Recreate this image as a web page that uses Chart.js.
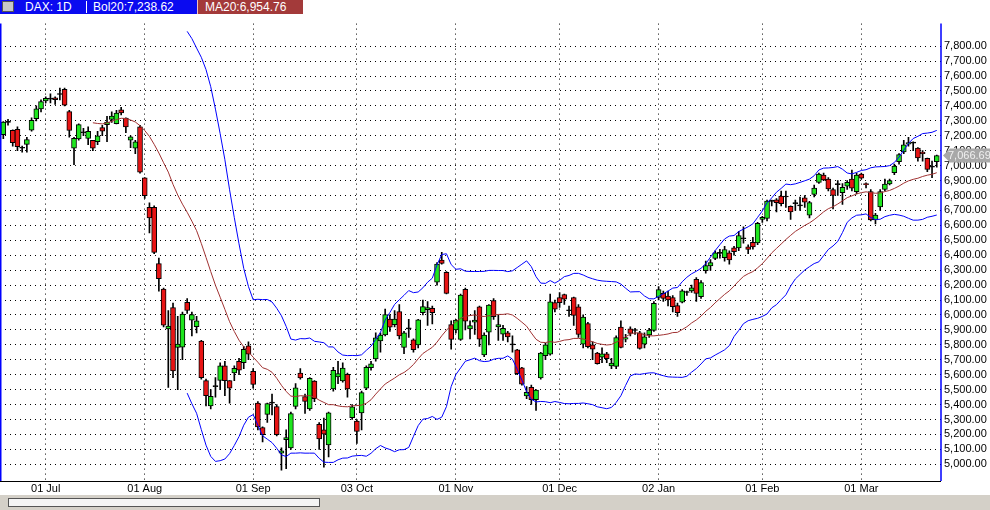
<!DOCTYPE html>
<html><head><meta charset="utf-8">
<script src="https://cdn.jsdelivr.net/npm/chart.js@4/dist/chart.umd.min.js"></script>
<style>
html,body{margin:0;padding:0;background:#fff;width:990px;height:510px;overflow:hidden;font-family:"Liberation Sans",Arial,sans-serif}
#hdr{position:absolute;left:0;top:0;width:990px;height:14px;background:#fff}
#hb{position:absolute;left:0;top:0;width:197px;height:14px;background:#0a0af0}
#hm{position:absolute;left:197px;top:0;width:105px;height:14px;background:#a33a3a;border-left:1px solid #f0c0c0}
.ht{position:absolute;top:0;color:#fff;font-size:12px;line-height:14px;white-space:nowrap}
#ic{position:absolute;left:2px;top:1px;width:12px;height:11px;background:#c8c8c8;border:1px solid #555;box-sizing:border-box}
#wrap{position:absolute;left:0;top:14px;width:990px;height:481px}
#sb{position:absolute;left:0;top:495px;width:990px;height:15px;background:#d4d0c8}
#tr{position:absolute;left:8px;top:3px;width:310px;height:7px;background:#f4f4f4;border:1px solid #555}
</style></head><body>
<div id="hdr"><div id="hb"></div><div id="hm"></div><div id="ic"></div>
<div class="ht" style="left:25px">DAX: 1D</div>
<div style="position:absolute;left:86px;top:1px;width:1px;height:12px;background:#fff"></div>
<div class="ht" style="left:93px">Bol20:7,238.62</div>
<div class="ht" style="left:205px">MA20:6,954.76</div></div>
<div id="wrap"><canvas id="c" width="990" height="481"></canvas></div>
<div id="sb"><div id="tr"></div></div>
<script>
const opens=[7208,7290,7237,7243,7116,7142,7237,7314,7380,7434,7445,7454,7476,7510,7362,7116,7178,7220,7182,7169,7160,7254,7274,7309,7281,7373,7318,7171,7116,7259,
6919,6721,6721,6344,6173,5906,6050,5783,5785,6085,5965,5921,5825,5560,5390,5520,5561,5660,5560,5612,5690,5680,5793,5622,5410,5246,5334,5410,5387,5075,
5165,5110,5388,5611,5454,5370,5557,5268,5230,5130,5505,5585,5559,5603,5312,5290,5344,5509,5647,5705,5826,5866,5973,5935,6023,5782,5907,5833,5800,6016,
6035,6045,6220,6367,6286,5935,5900,5836,6172,5907,5951,6055,5732,5885,6096,5920,5872,5881,5800,5767,5646,5458,5515,5432,5578,5727,5738,6082,6117,6137,
6028,6117,6055,5804,5942,5800,5744,5718,5740,5658,5656,5918,5838,5907,5896,5881,5805,5867,5897,6117,6144,6126,6117,6062,6086,6150,6161,6238,6122,6297,
6328,6379,6412,6383,6416,6449,6449,6510,6456,6486,6482,6640,6647,6760,6771,6796,6790,6728,6745,6730,6785,6668,6807,6888,6936,6910,6840,6873,6818,6862,
6910,6826,6943,6880,6826,6636,6723,6840,6877,6953,7026,7092,7144,7151,7118,7090,7048,6990,7026];
const highs=[7295,7310,7240,7260,7130,7190,7320,7400,7440,7460,7480,7460,7520,7520,7370,7190,7280,7250,7260,7170,7230,7270,7330,7360,7370,7390,7320,7200,7170,7270,
6920,6750,6730,6380,6180,6030,6080,5990,6020,6110,6020,5990,5830,5570,5500,5580,5680,5690,5560,5660,5710,5790,5820,5640,5420,5250,5410,5470,5400,5110,
5230,5350,5540,5640,5470,5580,5560,5280,5310,5350,5650,5690,5680,5610,5400,5300,5490,5660,5690,5880,5880,6040,6000,6030,6070,5890,5970,5840,5970,6100,
6090,6060,6350,6420,6290,5960,5970,6140,6180,5960,6030,6060,5880,6070,6110,6000,5930,5890,5860,5770,5650,5520,5530,5500,5750,5810,6140,6100,6150,6140,
6060,6120,6070,6000,5950,5820,5750,5780,5750,5710,5860,5960,5870,5920,5910,5890,5880,5910,6090,6190,6160,6160,6130,6080,6170,6160,6200,6250,6230,6360,
6370,6430,6440,6460,6430,6460,6560,6590,6470,6520,6620,6660,6770,6770,6780,6830,6830,6730,6770,6790,6800,6760,6870,6950,6950,6920,6850,6900,6880,6900,
6970,6950,6950,6885,6840,6680,6840,6910,6910,7010,7080,7170,7190,7160,7120,7100,7050,7030,7070];
const lows=[7180,7270,7130,7100,7090,7090,7230,7300,7360,7420,7420,7410,7440,7400,7190,7007,7170,7200,7140,7100,7140,7200,7160,7290,7280,7340,7220,7120,7080,6950,
6780,6550,6410,6160,5920,5515,5580,5500,5700,6010,5860,5880,5570,5390,5370,5450,5500,5460,5410,5560,5600,5640,5700,5510,5230,5150,5280,5330,5190,4960,
4970,5100,5370,5570,5340,5360,5420,5100,4980,5050,5490,5540,5550,5450,5300,5140,5230,5500,5630,5690,5750,5860,5890,5920,5840,5740,5850,5750,5780,6000,
5930,5940,6200,6340,6140,5770,5880,5830,5900,5840,5870,5790,5720,5800,5970,5830,5830,5820,5750,5600,5530,5440,5400,5360,5570,5700,5730,6020,6050,6070,
5990,5930,5850,5780,5780,5700,5670,5680,5680,5640,5640,5780,5820,5860,5870,5770,5780,5850,5890,6100,6090,6060,6020,5990,6080,6130,6150,6090,6110,6280,
6300,6370,6380,6360,6340,6400,6430,6480,6410,6440,6470,6620,6630,6730,6690,6730,6720,6640,6700,6700,6720,6650,6790,6880,6900,6830,6710,6800,6740,6840,
6830,6810,6910,6850,6630,6610,6700,6830,6870,6940,7010,7080,7130,7100,7030,7030,6960,6920,6990];
const closes=[7292,7290,7153,7127,7116,7175,7303,7380,7428,7450,7445,7441,7476,7405,7235,7182,7274,7220,7230,7116,7199,7230,7292,7331,7351,7353,7259,7193,7160,6956,
6798,6649,6419,6243,5932,5926,5625,5805,6005,6030,6002,5960,5580,5460,5455,5520,5660,5560,5510,5643,5630,5770,5738,5535,5250,5198,5406,5410,5198,5090,
5178,5340,5512,5578,5421,5575,5439,5169,5202,5345,5629,5607,5645,5505,5384,5220,5480,5650,5673,5847,5865,6002,5918,5973,5859,5881,5907,5767,5968,6056,
6050,6016,6340,6345,6144,5836,5965,6133,5958,5929,5965,5837,5865,6066,5988,5935,5910,5853,5800,5607,5537,5482,5432,5497,5745,5800,6088,6038,6082,6106,
6028,5997,5869,5986,5787,5771,5673,5740,5707,5678,5849,5782,5849,5876,5896,5776,5853,5899,6078,6170,6111,6100,6055,6016,6161,6150,6181,6144,6216,6330,
6350,6416,6412,6438,6368,6423,6532,6510,6438,6456,6614,6653,6763,6760,6752,6745,6790,6690,6745,6730,6756,6752,6849,6943,6905,6844,6800,6873,6855,6888,
6849,6936,6916,6873,6636,6669,6826,6877,6899,6997,7074,7140,7155,7151,7052,7080,6975,6990,7067];
const tickLabels=["01 Jul","01 Aug","01 Sep","03 Oct","01 Nov","01 Dec","02 Jan","01 Feb","01 Mar"];
const lastLabel="7,066.69";

const N=closes.length;
const MON=["Jan","Feb","Mar","Apr","May","Jun","Jul","Aug","Sep","Oct","Nov","Dec"];
const categories=[];
{let d=new Date(Date.UTC(2011,5,20));while(categories.length<N){const wd=d.getUTCDay();const iso=d.toISOString().slice(0,10);
if(wd!==0&&wd!==6&&iso!=="2011-12-26")categories.push(String(d.getUTCDate()).padStart(2,"0")+" "+MON[d.getUTCMonth()]);
d=new Date(d.getTime()+86400000);}}
const tickIdx=tickLabels.map(l=>categories.indexOf(l)).filter(i=>i>=0);

const ma=[],up=[],lo=[];
for(let i=0;i<N;i++){
 if(i<19){ma.push({x:i,y:null});up.push({x:i,y:null});lo.push({x:i,y:null});continue;}
 const w=closes.slice(i-19,i+1);const m=w.reduce((a,b)=>a+b,0)/20;
 const sd=Math.sqrt(w.reduce((a,b)=>a+(b-m)*(b-m),0)/20);
 ma.push({x:i,y:m});up.push({x:i,y:i>=39?m+2*sd:null});lo.push({x:i,y:i>=39?m-2*sd:null});
}
const wick=closes.map((c,i)=>({x:i,y:[lows[i],highs[i]]}));
const body=closes.map((c,i)=>({x:i,y:[opens[i],c]}));
const bodyCol=closes.map((c,i)=>c>opens[i]?"#1ee61e":(c<opens[i]?"#e81414":"#000"));

const frame={id:"frame",afterDraw(ch){
 const {ctx,chartArea:a}=ch;ctx.save();
 ctx.strokeStyle="#0000ff";ctx.lineWidth=1.5;
 ctx.beginPath();ctx.moveTo(a.left+0.75,a.top);ctx.lineTo(a.left+0.75,a.bottom);ctx.moveTo(a.right,a.top);ctx.lineTo(a.right,a.bottom);ctx.stroke();
 ctx.strokeStyle="#000";ctx.lineWidth=1;ctx.beginPath();ctx.moveTo(a.left,a.bottom+0.5);ctx.lineTo(a.right,a.bottom+0.5);ctx.stroke();
 const y=ch.scales.y.getPixelForValue(closes[N-1]);const x0=a.right+2;
 ctx.fillStyle="#a8a8a8";ctx.beginPath();ctx.moveTo(x0,y);ctx.lineTo(x0+7,y-7);ctx.lineTo(990,y-7);ctx.lineTo(990,y+7);ctx.lineTo(x0+7,y+7);ctx.closePath();ctx.fill();
 ctx.fillStyle="#f0f0f0";ctx.font="11px 'Liberation Sans'";ctx.textBaseline="middle";ctx.fillText(lastLabel,x0+5,y+0.5);
 ctx.restore();}};

new Chart(document.getElementById("c"),{
 data:{datasets:[
  {type:"line",data:up,borderColor:"#0000ff",borderWidth:1,pointRadius:0,order:-2},
  {type:"line",data:lo,borderColor:"#0000ff",borderWidth:1,pointRadius:0,order:-2},
  {type:"line",data:ma,borderColor:"#a03232",borderWidth:1,pointRadius:0,order:-1},
  {type:"bar",data:body,backgroundColor:bodyCol,borderColor:"#000",borderWidth:1,borderSkipped:false,barThickness:5,minBarLength:1,grouped:false,order:0},
  {type:"bar",data:wick,backgroundColor:"#000",borderWidth:0,barThickness:1,grouped:false,order:1}
 ]},
 options:{responsive:false,animation:false,events:[],
  layout:{padding:0},
  plugins:{legend:{display:false},tooltip:{enabled:false}},
  scales:{
   x:{type:"linear",min:-0.7,max:198.9,offset:false,
    afterBuildTicks(s){s.ticks=tickIdx.map(v=>({value:v}));},
    afterFit(s){s.height=14;},
    ticks:{autoSkip:false,maxRotation:0,padding:1,color:"#000",font:{family:"Liberation Sans",size:11},callback:v=>categories[v]},
    grid:{color:"#000",lineWidth:1,drawTicks:false,offset:false},border:{display:false,dash:[1,4]}},
   y:{position:"right",min:4888,max:7951,
    afterBuildTicks(s){const t=[];for(let v=5000;v<=7800;v+=100)t.push({value:v});s.ticks=t;},
    afterFit(s){s.width=49;},
    ticks:{autoSkip:false,padding:3,color:"#000",font:{family:"Liberation Sans",size:11},
     callback:v=>v.toLocaleString("en-US",{minimumFractionDigits:2,maximumFractionDigits:2})},
    grid:{color:"#000",lineWidth:1,drawTicks:false},border:{display:false,dash:[1,4]}}
  }},
 plugins:[frame]
});
</script></body></html>
